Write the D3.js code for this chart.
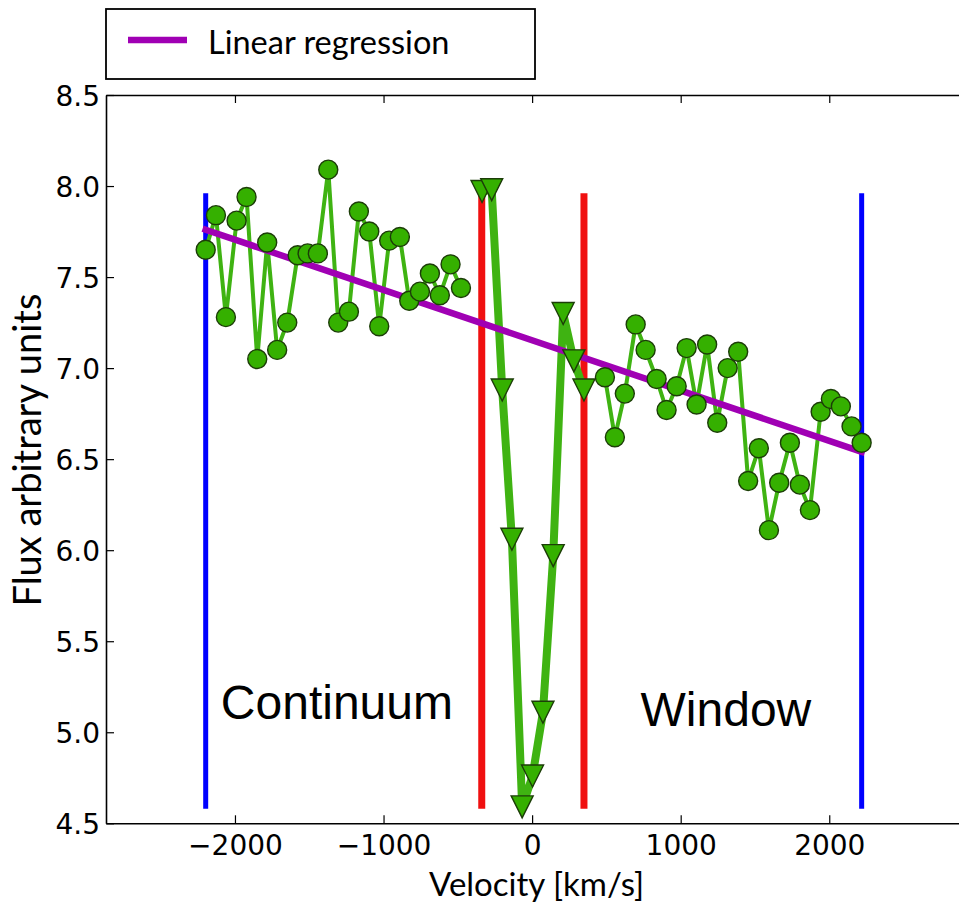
<!DOCTYPE html>
<html>
<head>
<meta charset="utf-8">
<script src="https://cdnjs.cloudflare.com/ajax/libs/d3/7.8.5/d3.min.js"></script>
<style>
  html, body { margin: 0; padding: 0; background: #fff; }
  svg { display: block; }
</style>
</head>
<body>
<div id="chart"></div>
<script>
// ---- data ----
const contLeftV = [-2197,-2128,-2061,-1989,-1922,-1850,-1783,-1716,-1648,-1578,-1511,-1442,-1372,-1305,-1233,-1166,-1096,-1029,-962,-890,-827,-755,-688,-621,-549,-479];
const contLeftF = [7.65,7.84,7.28,7.81,7.94,7.05,7.69,7.10,7.25,7.62,7.63,7.63,8.09,7.25,7.31,7.86,7.75,7.23,7.70,7.72,7.37,7.42,7.52,7.40,7.57,7.44];
const lineV = [-337,-272,-201,-136,-67,3,73,142,209,281,349];
const lineF = [7.97,7.98,6.88,6.06,4.59,4.76,5.11,5.97,7.30,7.04,6.88];
const contRightV = [490,557,624,697,764,838,905,973,1040,1107,1178,1246,1316,1387,1454,1526,1594,1663,1735,1802,1870,1942,2011,2078,2150,2218];
const contRightF = [6.95,6.62,6.86,7.24,7.10,6.94,6.77,6.90,7.11,6.80,7.13,6.70,7.00,7.09,6.38,6.56,6.11,6.37,6.59,6.36,6.22,6.76,6.83,6.79,6.68,6.59];
const regV = [-2197, 2218];
const regF = [7.76, 6.54];
const continuumEdges = [-2197, 2218];
const windowEdges = [-339, 349];
const edgeRange = [4.58, 7.96];
const xTicks = [-2000, -1000, 0, 1000, 2000];
const yTicks = [4.5, 5.0, 5.5, 6.0, 6.5, 7.0, 7.5, 8.0, 8.5];
const xDomain = [-2868, 2900];
const yDomain = [4.5, 8.5];
const labels = { x: "Velocity [km/s]", y: "Flux arbitrary units", legend: "Linear regression", left: "Continuum", right: "Window" };

// ---- layout ----
const W = 959, H = 902;
const L = 106, T = 95, B = 823.3;
const R = L + (xDomain[1] - xDomain[0]) * 0.148575;

const svg = d3.select("#chart").append("svg").attr("width", W).attr("height", H);
svg.append("rect").attr("width", W).attr("height", H).attr("fill", "#fff");

const x = d3.scaleLinear().domain(xDomain).range([L, R]);
const y = d3.scaleLinear().domain(yDomain).range([B, T]);

const green = "#35b000", greenLine = "#3fb312", markerStroke = "#1c3d08";
const tickFont = "'DejaVu Sans', sans-serif";
const labelFont = "Lato, 'DejaVu Sans', sans-serif";

// clip
svg.append("clipPath").attr("id", "clip").append("rect")
  .attr("x", L).attr("y", T).attr("width", R - L).attr("height", B - T);
const plot = svg.append("g").attr("clip-path", "url(#clip)");

// vertical edges
plot.selectAll("line.cont").data(continuumEdges).enter().append("line")
  .attr("x1", d => x(d)).attr("x2", d => x(d))
  .attr("y1", y(edgeRange[0])).attr("y2", y(edgeRange[1]))
  .attr("stroke", "#0000ff").attr("stroke-width", 5);
plot.selectAll("line.win").data(windowEdges).enter().append("line")
  .attr("x1", d => x(d)).attr("x2", d => x(d))
  .attr("y1", y(edgeRange[0])).attr("y2", y(edgeRange[1]))
  .attr("stroke", "#f01010").attr("stroke-width", 7);

const lineGen = d3.line().x(d => x(d[0])).y(d => y(d[1]));
const leftPts = contLeftV.map((v, i) => [v, contLeftF[i]]);
const midPts = lineV.map((v, i) => [v, lineF[i]]);
const rightPts = contRightV.map((v, i) => [v, contRightF[i]]);

[leftPts, rightPts].forEach(pts => {
  plot.append("path").datum(pts).attr("d", lineGen)
    .attr("fill", "none").attr("stroke", greenLine).attr("stroke-width", 4)
    .attr("stroke-linejoin", "round").attr("stroke-linecap", "square");
});
plot.append("path").datum(midPts).attr("d", lineGen)
  .attr("fill", "none").attr("stroke", greenLine).attr("stroke-width", 8)
  .attr("stroke-linejoin", "round").attr("stroke-linecap", "square");

// regression
plot.append("path").datum(regV.map((v, i) => [v, regF[i]])).attr("d", lineGen)
  .attr("fill", "none").attr("stroke", "#a000b4").attr("stroke-width", 6.5)
  .attr("stroke-linecap", "square");

// markers
plot.selectAll("circle.c").data(leftPts.concat(rightPts)).enter().append("circle")
  .attr("cx", d => x(d[0])).attr("cy", d => y(d[1])).attr("r", 9.5)
  .attr("fill", green).attr("stroke", markerStroke).attr("stroke-width", 1.4);
plot.selectAll("path.t").data(midPts).enter().append("path")
  .attr("d", "M-11,-11L11,-11L0,11Z")
  .attr("transform", d => `translate(${x(d[0])},${y(d[1])})`)
  .attr("fill", green).attr("stroke", markerStroke).attr("stroke-width", 1.4);

// annotations
svg.append("text").attr("x", x(-2095)).attr("y", 719).text(labels.left)
  .attr("font-family", "'Liberation Sans', Arial, sans-serif").attr("font-size", 48).attr("fill", "#000");
svg.append("text").attr("x", x(730)).attr("y", 726).text(labels.right)
  .attr("font-family", "'Liberation Sans', Arial, sans-serif").attr("font-size", 48).attr("fill", "#000");

// axes
function styleAxis(g) {
  g.select(".domain").attr("stroke", "#000").attr("stroke-width", 1.6);
  g.selectAll(".tick line").attr("stroke", "#000").attr("stroke-width", 1.2);
  g.selectAll(".tick text").attr("font-family", tickFont).attr("font-size", 28).attr("fill", "#000");
}
const xAxis = svg.append("g").attr("transform", `translate(0,${B})`)
  .call(d3.axisBottom(x).tickValues(xTicks).tickFormat(d3.format("d")).tickSizeInner(-8).tickSizeOuter(0).tickPadding(12));
styleAxis(xAxis);
const xAxisTop = svg.append("g").attr("transform", `translate(0,${T})`)
  .call(d3.axisTop(x).tickValues(xTicks).tickSizeInner(-8).tickSizeOuter(0).tickFormat(""));
styleAxis(xAxisTop);
const yAxis = svg.append("g").attr("transform", `translate(${L},0)`)
  .call(d3.axisLeft(y).tickValues(yTicks).tickFormat(d3.format(".1f")).tickSizeInner(-8).tickSizeOuter(0).tickPadding(6));
styleAxis(yAxis);
yAxis.selectAll(".tick text").attr("dy", "0.36em");

// axis labels
svg.append("text").attr("x", x(30)).attr("y", 895.5).attr("text-anchor", "middle")
  .attr("font-family", labelFont).attr("font-size", 33).attr("fill", "#000").text(labels.x);
svg.append("text").attr("transform", `translate(41,${y(6.55)}) rotate(-90)`).attr("text-anchor", "middle")
  .attr("font-family", labelFont).attr("font-size", 38).attr("fill", "#000").text(labels.y);

// legend
const lg = svg.append("g");
lg.append("rect").attr("x", 106).attr("y", 9).attr("width", 429).attr("height", 70)
  .attr("fill", "#fff").attr("stroke", "#000").attr("stroke-width", 1.8);
lg.append("line").attr("x1", 128).attr("x2", 187).attr("y1", 40).attr("y2", 40)
  .attr("stroke", "#a000b4").attr("stroke-width", 6.5);
lg.append("text").attr("x", 208).attr("y", 54).text(labels.legend)
  .attr("font-family", labelFont).attr("font-size", 32.5).attr("fill", "#000");
</script>
</body>
</html>
